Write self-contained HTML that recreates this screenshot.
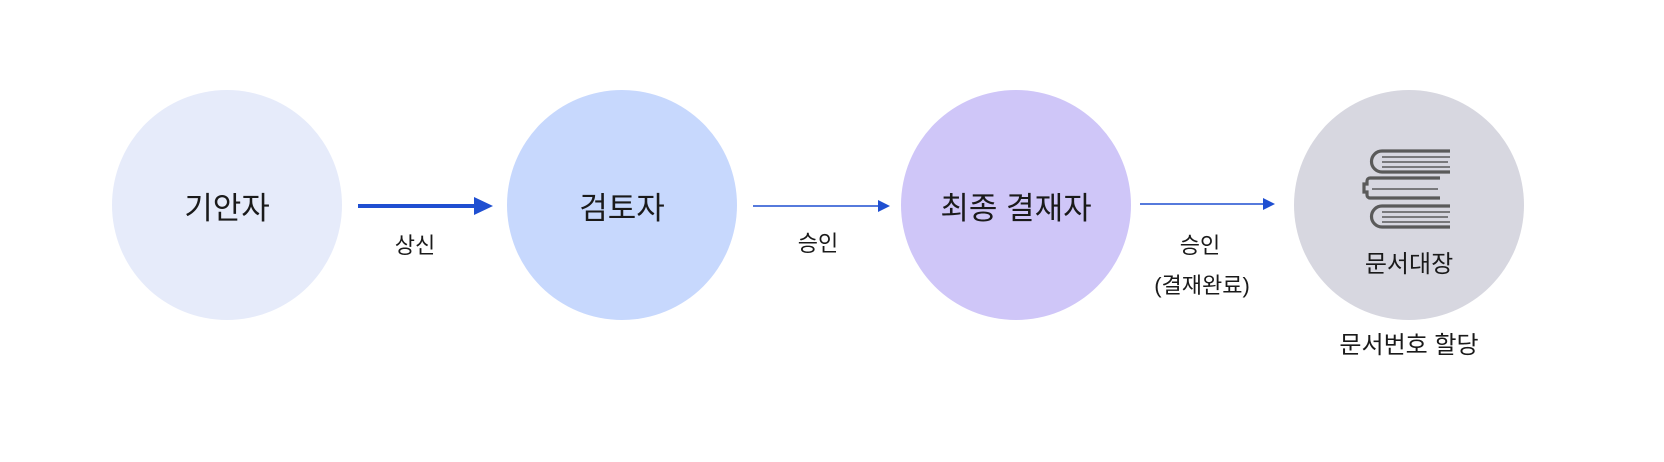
<!DOCTYPE html>
<html><head><meta charset="utf-8"><style>
html,body{margin:0;padding:0;background:#fff;}
body{width:1664px;height:462px;position:relative;overflow:hidden;font-family:"Liberation Sans","Noto Sans CJK KR",sans-serif;color:#1a1a1a;}
.c{position:absolute;width:230px;height:230px;border-radius:50%;top:90px;display:flex;align-items:center;justify-content:center;font-size:31px;}
.t{position:absolute;font-size:22px;text-align:center;transform:translateX(-50%);white-space:nowrap;line-height:1;}
</style></head><body>
<div class="c" style="left:112px;background:#e6ebfa">기안자</div>
<div class="c" style="left:507px;background:#c7d8fd">검토자</div>
<div class="c" style="left:901px;background:#cfc6f8">최종 결재자</div>
<div class="c" style="left:1294px;background:#d7d7e0"></div>
<svg width="1664" height="462" style="position:absolute;left:0;top:0">
<line x1="358" y1="206" x2="478" y2="206" stroke="#1f4fd1" stroke-width="4"/>
<polygon points="474,197 493,206 474,215" fill="#1f4fd1"/>
<line x1="753" y1="206" x2="880" y2="206" stroke="#1f4fd1" stroke-width="1.6"/>
<polygon points="878,200 890,206 878,212" fill="#1f4fd1"/>
<line x1="1140" y1="204" x2="1265" y2="204" stroke="#1f4fd1" stroke-width="1.6"/>
<polygon points="1263,198 1275,204 1263,210" fill="#1f4fd1"/>
<g fill="none" stroke="#5a5a5a" stroke-width="3.2">
<path d="M1450,151 H1382 a10,10 0 0 0 0,21 H1450"/>
<path d="M1440,178 H1370 a3,3 0 0 0 -3,3 v3 h-3 v8 h3 v3 a3,3 0 0 0 3,3 H1440"/>
<path d="M1450,206 H1382 a10,10 0 0 0 0,21 H1450"/>
</g>
<g stroke="#5a5a5a" stroke-width="1.4">
<line x1="1382" y1="157" x2="1450" y2="157"/><line x1="1382" y1="162" x2="1448" y2="162"/><line x1="1382" y1="167" x2="1450" y2="167"/>
<line x1="1372" y1="189" x2="1438" y2="189"/>
<line x1="1382" y1="212" x2="1450" y2="212"/><line x1="1382" y1="217" x2="1448" y2="217"/><line x1="1382" y1="222" x2="1450" y2="222"/>
</g>
</svg>
<div class="t" style="left:1409px;top:253px;font-size:24px">문서대장</div>
<div class="t" style="left:1409px;top:334px;font-size:24px">문서번호 할당</div>
<div class="t" style="left:415px;top:235px">상신</div>
<div class="t" style="left:818px;top:233px">승인</div>
<div class="t" style="left:1200px;top:235px">승인</div>
<div class="t" style="left:1202px;top:275px">(결재완료)</div>
</body></html>
